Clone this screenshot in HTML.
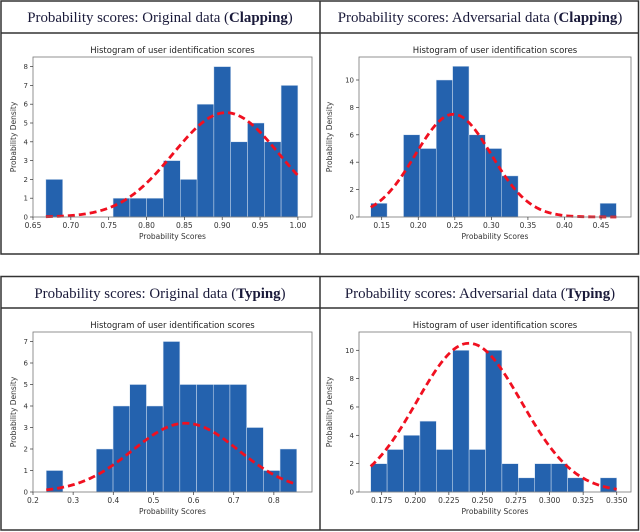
<!DOCTYPE html>
<html><head><meta charset="utf-8"><style>
body{margin:0;background:#fff;width:640px;height:532px;overflow:hidden}
svg{display:block}
</style></head><body>
<svg id="s" width="640" height="532" xmlns="http://www.w3.org/2000/svg">
<g fill="none" stroke="#333" stroke-width="1.5">
<rect x="1" y="1" width="637.5" height="253"/>
<line x1="1" y1="33" x2="638.5" y2="33"/>
<line x1="320" y1="1" x2="320" y2="254"/>
</g>
<g fill="none" stroke="#333" stroke-width="1.5">
<rect x="1" y="276.5" width="637.5" height="253.5"/>
<line x1="1" y1="308" x2="638.5" y2="308"/>
<line x1="320" y1="276.5" x2="320" y2="530"/>
</g>
<g font-family="Liberation Serif, serif" font-size="14.9" fill="#1a1a3a" text-anchor="middle">
<text x="160" y="22">Probability scores: Original data (<tspan font-weight="bold">Clapping</tspan>)</text>
<text x="480" y="22">Probability scores: Adversarial data (<tspan font-weight="bold">Clapping</tspan>)</text>
<text x="160" y="298">Probability scores: Original data (<tspan font-weight="bold">Typing</tspan>)</text>
<text x="480" y="298">Probability scores: Adversarial data (<tspan font-weight="bold">Typing</tspan>)</text>
</g>
</svg>
<script>
// Chart 1: Original Clapping
const c1Counts=[2,0,0,0,1,1,1,3,2,6,8,4,5,4,7];
const c1Range=[0.667,1.0];
const c1XTicks=[0.65,0.70,0.75,0.80,0.85,0.90,0.95,1.00];
const c1XLabels=["0.65","0.70","0.75","0.80","0.85","0.90","0.95","1.00"];
const c1YTicks=[0,1,2,3,4,5,6,7,8];
const c1Fit=[0.905,0.070,5.55];
// Chart 2: Adversarial Clapping
const c2Counts=[1,0,6,5,10,11,6,5,3,0,0,0,0,0,1];
const c2Range=[0.135,0.471];
const c2XTicks=[0.15,0.20,0.25,0.30,0.35,0.40,0.45];
const c2XLabels=["0.15","0.20","0.25","0.30","0.35","0.40","0.45"];
const c2YTicks=[0,2,4,6,8,10];
const c2Fit=[0.248,0.052,7.5];
// Chart 3: Original Typing
const c3Counts=[1,0,0,2,4,5,4,7,5,5,5,5,3,1,2];
const c3Range=[0.233,0.857];
const c3XTicks=[0.2,0.3,0.4,0.5,0.6,0.7,0.8];
const c3XLabels=["0.2","0.3","0.4","0.5","0.6","0.7","0.8"];
const c3YTicks=[0,1,2,3,4,5,6,7];
const c3Fit=[0.58,0.132,3.2];
// Chart 4: Adversarial Typing
const c4Counts=[2,3,4,5,3,10,3,10,2,1,2,2,1,0,1];
const c4Range=[0.1668,0.350];
const c4XTicks=[0.175,0.200,0.225,0.250,0.275,0.300,0.325,0.350];
const c4XLabels=["0.175","0.200","0.225","0.250","0.275","0.300","0.325","0.350"];
const c4YTicks=[0,2,4,6,8,10];
const c4Fit=[0.240,0.039,10.5];

const NS="http://www.w3.org/2000/svg";
const svg=document.getElementById('s');
function mk(tag,attrs,parent){const e=document.createElementNS(NS,tag);for(const k in attrs)e.setAttribute(k,attrs[k]);(parent||svg).appendChild(e);return e;}

function chart(name,box,xDom,yDom,counts,range,xt,xl,yt,fit){
  const g=mk('g',{});
  
  
  const [L,T,R,B]=box;
  const X=v=>L+(v-xDom[0])/(xDom[1]-xDom[0])*(R-L);
  const Y=v=>B-(v-yDom[0])/(yDom[1]-yDom[0])*(B-T);
  const w=(range[1]-range[0])/counts.length;
  counts.forEach((c,i)=>{
    if(c<=0)return;
    const x0=X(range[0]+i*w),x1=X(range[0]+(i+1)*w);
    const r=mk('rect',{x:x0,y:Y(c),width:x1-x0,height:Y(0)-Y(c),fill:'#2462ae',stroke:'#d8e4f2','stroke-width':0.5},g);
    
    
  });
  let d='';
  for(let k=0;k<=80;k++){const v=range[0]+(range[1]-range[0])*k/80;const yv=fit[2]*Math.exp(-Math.pow((v-fit[0])/fit[1],2)/2);d+=(k?'L':'M')+X(v).toFixed(2)+','+Y(yv).toFixed(2);}
  const p=mk('path',{d:d,fill:'none',stroke:'#f01020','stroke-width':2.8,'stroke-dasharray':'7,4'},g);
  
  
  const fr=mk('rect',{x:L,y:T,width:R-L,height:B-T,fill:'none',stroke:'#777','stroke-width':0.8},g);
  
  
  xt.forEach((v,i)=>{
    mk('line',{x1:X(v),x2:X(v),y1:B,y2:B+3,stroke:'#333','stroke-width':0.7},g);
    const t=mk('text',{x:X(v),y:B+11,'font-size':7.5,'text-anchor':'middle',fill:'#333','font-family':'DejaVu Sans, sans-serif'},g);
    t.textContent=xl[i];
    
    
  });
  yt.forEach(v=>{
    mk('line',{x1:L-3,x2:L,y1:Y(v),y2:Y(v),stroke:'#333','stroke-width':0.7},g);
    const t=mk('text',{x:L-5,y:Y(v)+2.5,'font-size':7,'text-anchor':'end',fill:'#333','font-family':'DejaVu Sans, sans-serif'},g);
    t.textContent=String(v);
    
    
  });
  const tt=mk('text',{x:(L+R)/2,y:T-4,'font-size':8.5,'text-anchor':'middle',fill:'#222','font-family':'DejaVu Sans, sans-serif'},g);
  tt.textContent='Histogram of user identification scores';
  
  
  const xa=mk('text',{x:(L+R)/2,y:B+22,'font-size':7.5,'text-anchor':'middle',fill:'#333','font-family':'DejaVu Sans, sans-serif'},g);
  xa.textContent='Probability Scores';
  
  
  const cy=(T+B)/2, cx=L-(L>300?L-332:L-16);
  const ya=mk('text',{x:cx,y:cy,'font-size':7.5,'text-anchor':'middle',fill:'#333','font-family':'DejaVu Sans, sans-serif',transform:`rotate(-90 ${cx} ${cy})`},g);
  ya.textContent='Probability Density';
  
  
}
chart('chart-original-clapping',[33,57,312,217],[0.65,0.65+(312-33.3)/756],[0,(217-57)/18.8],c1Counts,c1Range,c1XTicks,c1XLabels,c1YTicks,c1Fit);
chart('chart-adversarial-clapping',[359,57,631,217],[0.15-22.7/731.1,0.15+(631-381.7)/731.1],[0,(217-57)/13.7],c2Counts,c2Range,c2XTicks,c2XLabels,c2YTicks,c2Fit);
chart('chart-original-typing',[33,332,312,492],[0.2,0.2+(312-33.3)/401],[0,(492-332)/21.5],c3Counts,c3Range,c3XTicks,c3XLabels,c3YTicks,c3Fit);
chart('chart-adversarial-typing',[359,332,631,492],[0.175-22.7/1343,0.175+(631-381.7)/1343],[0,(492-332)/14.17],c4Counts,c4Range,c4XTicks,c4XLabels,c4YTicks,c4Fit);
</script>
</body></html>
